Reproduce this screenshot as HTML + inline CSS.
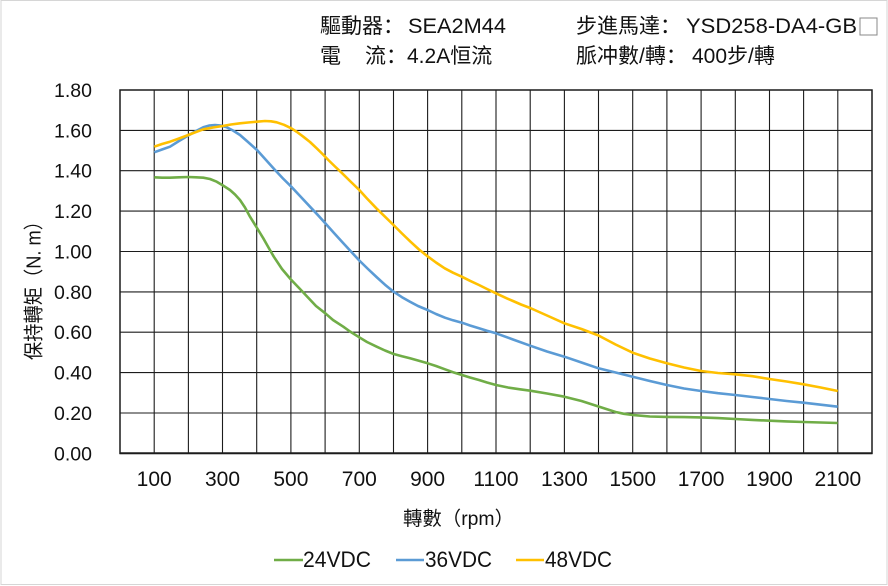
<!DOCTYPE html>
<html><head><meta charset="utf-8">
<style>
html,body{margin:0;padding:0;background:#fff;}
svg{display:block;}
text{font-family:"Liberation Sans","Noto Sans CJK SC",sans-serif;fill:#111;}
</style></head>
<body>
<svg width="888" height="586" viewBox="0 0 888 586" xmlns="http://www.w3.org/2000/svg">
<rect x="0" y="0" width="888" height="586" fill="#fff"/>
<rect x="1" y="0.5" width="886" height="584" fill="none" stroke="#d6d6d6" stroke-width="1"/>

<!-- header -->
<g font-size="21">
<text x="320" y="33">驅動器：</text>
<text x="408" y="33" textLength="98" lengthAdjust="spacingAndGlyphs">SEA2M44</text>
<text x="320" y="63">電</text>
<text x="365" y="63">流：</text>
<text x="407" y="63">4.2A恒流</text>
<text x="576" y="33">步進馬達：</text>
<text x="686" y="33" textLength="171" lengthAdjust="spacingAndGlyphs">YSD258-DA4-GB</text>
<rect x="860" y="18" width="17" height="17" fill="none" stroke="#888" stroke-width="1"/>
<text x="576" y="63">脈冲數/轉：</text>
<text x="692" y="63">400步/轉</text>
</g>

<!-- grid -->
<g stroke="#1c1c1c" stroke-width="1.1" fill="none">
<line x1="120" y1="130.4" x2="872" y2="130.4"/>
<line x1="120" y1="170.7" x2="872" y2="170.7"/>
<line x1="120" y1="211.1" x2="872" y2="211.1"/>
<line x1="120" y1="251.5" x2="872" y2="251.5"/>
<line x1="120" y1="291.9" x2="872" y2="291.9"/>
<line x1="120" y1="332.2" x2="872" y2="332.2"/>
<line x1="120" y1="372.6" x2="872" y2="372.6"/>
<line x1="120" y1="413.0" x2="872" y2="413.0"/>
<line x1="154.2" y1="90" x2="154.2" y2="453.3"/>
<line x1="188.4" y1="90" x2="188.4" y2="453.3"/>
<line x1="222.5" y1="90" x2="222.5" y2="453.3"/>
<line x1="256.7" y1="90" x2="256.7" y2="453.3"/>
<line x1="290.9" y1="90" x2="290.9" y2="453.3"/>
<line x1="325.1" y1="90" x2="325.1" y2="453.3"/>
<line x1="359.3" y1="90" x2="359.3" y2="453.3"/>
<line x1="393.5" y1="90" x2="393.5" y2="453.3"/>
<line x1="427.6" y1="90" x2="427.6" y2="453.3"/>
<line x1="461.8" y1="90" x2="461.8" y2="453.3"/>
<line x1="496.0" y1="90" x2="496.0" y2="453.3"/>
<line x1="530.2" y1="90" x2="530.2" y2="453.3"/>
<line x1="564.4" y1="90" x2="564.4" y2="453.3"/>
<line x1="598.5" y1="90" x2="598.5" y2="453.3"/>
<line x1="632.7" y1="90" x2="632.7" y2="453.3"/>
<line x1="666.9" y1="90" x2="666.9" y2="453.3"/>
<line x1="701.1" y1="90" x2="701.1" y2="453.3"/>
<line x1="735.3" y1="90" x2="735.3" y2="453.3"/>
<line x1="769.5" y1="90" x2="769.5" y2="453.3"/>
<line x1="803.6" y1="90" x2="803.6" y2="453.3"/>
<line x1="837.8" y1="90" x2="837.8" y2="453.3"/>
<rect x="120" y="90" width="752" height="363.3" stroke-width="1.5"/>
<line x1="119.5" y1="453.3" x2="872.5" y2="453.3" stroke-width="2"/>
</g>

<!-- y labels -->
<g font-size="19.5" text-anchor="end">
<text x="92" y="97">1.80</text>
<text x="92" y="137.4">1.60</text>
<text x="92" y="177.7">1.40</text>
<text x="92" y="218.1">1.20</text>
<text x="92" y="258.5">1.00</text>
<text x="92" y="298.9">0.80</text>
<text x="92" y="339.2">0.60</text>
<text x="92" y="379.6">0.40</text>
<text x="92" y="420">0.20</text>
<text x="92" y="460.3">0.00</text>
</g>

<!-- x labels -->
<g font-size="21" text-anchor="middle">
<text x="154.2" y="486">100</text>
<text x="222.5" y="486">300</text>
<text x="290.9" y="486">500</text>
<text x="359.3" y="486">700</text>
<text x="427.6" y="486">900</text>
<text x="496.0" y="486">1100</text>
<text x="564.4" y="486">1300</text>
<text x="632.7" y="486">1500</text>
<text x="701.1" y="486">1700</text>
<text x="769.5" y="486">1900</text>
<text x="837.8" y="486">2100</text>
</g>

<!-- axis titles -->
<text x="403" y="525" font-size="19.5" textLength="111" lengthAdjust="spacingAndGlyphs">轉數（rpm）</text>
<text transform="translate(40.5,286) rotate(-90)" font-size="20" text-anchor="middle" textLength="148" lengthAdjust="spacingAndGlyphs">保持轉矩（N. m）</text>

<!-- series -->
<g fill="none" stroke-width="2.6" stroke-linejoin="round" stroke-linecap="butt">
<polyline stroke="#70ad47" points="154.2,177.3 162,177.7 170,177.7 179,177.3 188.3,177 196,177.3 203.3,177.7 210,179 216.7,181.7 223,185.5 230,190 235,194.5 240,200 245,207.5 250,216.7 256.7,227.5 263.3,238.3 268.5,247.5 273.8,256.7 282,269 290.9,279.5 300,289 308,297.5 316,306 325.3,313.3 333,320 343.3,326.7 350,331.5 359.3,337.3 367,342 376.7,346.7 385,350.5 393.7,354 402,356.3 410,358.3 418,360.5 427.7,363.3 436,366 445,369.3 453,372.2 462,375 470,377.5 479,380 487,382.5 496,385 508,387.5 520,389.3 530.2,390.7 547,393.5 564.4,396.7 581.5,401 598.5,406.5 615.6,412 624,413.8 632.7,415 649.8,416.5 666.9,416.9 684,417.1 701.1,417.4 718,418.1 735.3,419 752.4,419.9 769.5,420.7 786.6,421.4 803.6,422 820.7,422.5 837.8,423"/>
<polyline stroke="#5b9bd5" points="154.2,152.3 162,149.5 170,146.7 179,141 188.3,135.5 196,131 203.3,127.3 209,125.6 215,125 221,125.6 226.7,127.3 233,130.5 240,135 248,142 257,150 266,160 275,170 283,178.5 291.3,186.7 300,196 310,206.7 318,215.2 325.5,223.5 334,233 342.2,242 350.5,251 359.3,260.5 368,269 376.5,277 385,284.7 393.6,291.7 402,297.2 410,301.7 418,306 427.6,310 436,314 445,317.7 453,320.3 462,322.7 470,325.5 479,328.3 487,330.8 496,333.3 513,339.5 530.2,345.7 547,351.5 564.4,356.7 581.5,362.5 598.5,368.3 615.6,372.5 632.7,376.7 649.8,381 666.9,385 684,388.5 701.1,391 718,393.2 735.3,395 752.4,397 769.5,399 786.6,401 803.6,402.7 820.7,404.7 837.8,406.7"/>
<polyline stroke="#ffc000" points="154.2,146.7 162,144 170,141.7 179,138.5 188.3,135 196,132 203.3,129.3 213,127.5 222.7,126 231,124.5 240,123.3 248,122.5 257,121.7 265,121 271,121.3 276.7,122.3 284,124.8 291.3,128.3 297,132 303.3,136.7 310,142 316.7,148.3 322.5,154 328.3,160 335,166.5 342.2,173.3 350,181 359.3,190 367,198.5 376.4,208.3 385,216.7 393.5,225 402,233.5 410.5,241.7 419,249.5 427.6,256.3 436,262.5 444.7,268.3 453,272.7 461.8,276.7 470,280.8 479,285 487,289 496,293.3 506.7,298.3 513,301 521,304.5 530.2,308 547,315.5 564.4,323.3 581.5,329 598.5,335.5 615.6,344.5 632.7,352.7 649.8,358.5 666.9,363.3 684,367.5 701.1,371 718,373 735.3,374.3 752.4,376.2 769.5,379 786.6,381.5 803.6,384.3 820.7,387.5 837.8,391"/>
</g>

<!-- legend -->
<g stroke-width="2.6">
<line x1="274" y1="560" x2="303" y2="560" stroke="#70ad47"/>
<line x1="396" y1="560" x2="424" y2="560" stroke="#5b9bd5"/>
<line x1="516" y1="560" x2="544" y2="560" stroke="#ffc000"/>
</g>
<g font-size="22">
<text x="303" y="567" textLength="68" lengthAdjust="spacingAndGlyphs">24VDC</text>
<text x="425" y="567" textLength="67" lengthAdjust="spacingAndGlyphs">36VDC</text>
<text x="545" y="567" textLength="67" lengthAdjust="spacingAndGlyphs">48VDC</text>
</g>
</svg>
</body></html>
